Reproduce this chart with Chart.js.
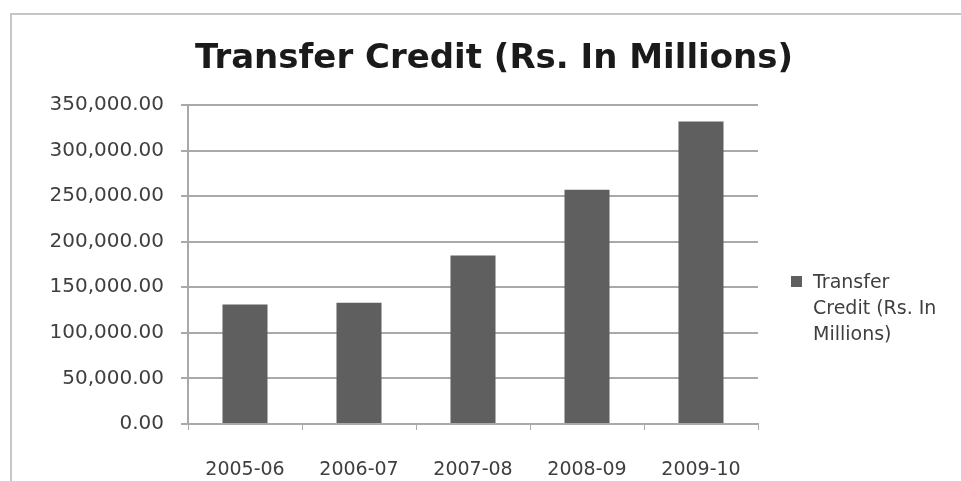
<!DOCTYPE html>
<html>
<head>
<meta charset="utf-8">
<script src="https://cdn.jsdelivr.net/npm/chart.js@4"></script>
<style>
  html, body { margin: 0; padding: 0; background: #ffffff; }
  #wrap { width: 961px; height: 481px; position: relative; }
</style>
</head>
<body>
<div id="wrap"><canvas id="c" width="961" height="481"></canvas></div>
<script>
const titleText = 'Transfer Credit (Rs. In Millions)';
const categories = ['2005-06', '2006-07', '2007-08', '2008-09', '2009-10'];
const seriesName = 'Transfer Credit (Rs. In Millions)';
const values = [131000, 133000, 185000, 257000, 332000];
const yTicks = [0, 50000, 100000, 150000, 200000, 250000, 300000, 350000];
const legendLines = ['Transfer', 'Credit (Rs. In', 'Millions)'];

const barColor = '#5f5f5f';
const gridColor = '#a9a9a9';
const textColor = '#3f3f3f';
const xFont = { family: 'DejaVu Sans', size: 19 };
const yFont = { family: 'DejaVu Sans', size: 20 };

const fmt = v => v.toLocaleString('en-US', { minimumFractionDigits: 2, maximumFractionDigits: 2 });

const decor = {
  id: 'decor',
  beforeDraw(chart) {
    const ctx = chart.ctx;
    ctx.save();
    ctx.fillStyle = '#ffffff';
    ctx.fillRect(0, 0, chart.width, chart.height);
    ctx.strokeStyle = '#c6c6c6';
    ctx.lineWidth = 2;
    ctx.beginPath();
    ctx.moveTo(11, chart.height);
    ctx.lineTo(11, 14);
    ctx.lineTo(chart.width, 14);
    ctx.stroke();
    ctx.restore();
  },
  afterDraw(chart) {
    const ctx = chart.ctx;
    ctx.save();
    // title
    ctx.fillStyle = '#1a1a1a';
    ctx.font = 'bold 34px "DejaVu Sans"';
    ctx.textAlign = 'center';
    ctx.textBaseline = 'alphabetic';
    ctx.fillText(titleText, 494, 68);
    // legend
    const ds = chart.data.datasets[0];
    ctx.fillStyle = ds.backgroundColor;
    ctx.fillRect(791, 276, 11, 11);
    ctx.fillStyle = textColor;
    ctx.font = '19px "DejaVu Sans"';
    ctx.textAlign = 'left';
    legendLines.forEach((t, i) => ctx.fillText(t, 813, 288 + i * 26));
    ctx.restore();
  }
};

new Chart(document.getElementById('c'), {
  type: 'bar',
  data: {
    labels: categories,
    datasets: [{
      label: seriesName,
      data: values,
      backgroundColor: barColor,
      borderWidth: 0,
      barPercentage: 0.395,
      categoryPercentage: 1.0
    }]
  },
  options: {
    responsive: false,
    animation: false,
    devicePixelRatio: 1,
    layout: { padding: { top: 105, right: 203, left: 0, bottom: 0 } },
    plugins: {
      legend: { display: false },
      title: { display: false },
      tooltip: { enabled: false }
    },
    scales: {
      x: {
        grid: { offset: true, drawOnChartArea: false, tickLength: 6, color: gridColor, lineWidth: 1 },
        border: { color: gridColor, width: 2 },
        ticks: { font: xFont, color: textColor, padding: 29, maxRotation: 0 },
        afterFit: s => { s.height = 57; }
      },
      y: {
        min: 0,
        max: 350000,
        afterBuildTicks: s => { s.ticks = yTicks.map(v => ({ value: v })); },
        ticks: { font: yFont, color: textColor, padding: 17, callback: v => fmt(v) },
        grid: { color: gridColor, lineWidth: 2, tickLength: 7 },
        border: { color: gridColor, width: 2 },
        afterFit: s => { s.width = 188; }
      }
    }
  },
  plugins: [decor]
});
</script>
</body>
</html>
